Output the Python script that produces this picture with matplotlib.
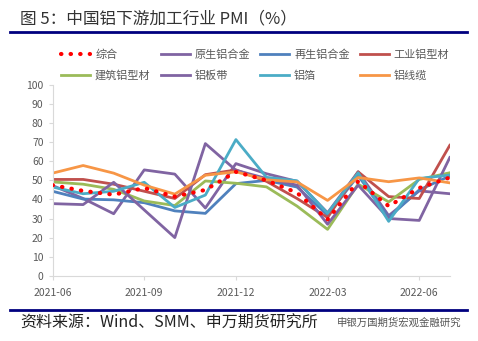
import matplotlib
matplotlib.use("Agg")
import matplotlib.pyplot as plt
from matplotlib.lines import Line2D

plt.rcParams['font.family'] = ['Noto Sans CJK SC', 'DejaVu Sans']

months = ["2021-06", "2021-07", "2021-08", "2021-09", "2021-10", "2021-11", "2021-12",
          "2022-01", "2022-02", "2022-03", "2022-04", "2022-05", "2022-06", "2022-07"]
tick_labels = ["2021-06", "2021-09", "2021-12", "2022-03", "2022-06"]

composite = [47.5, 44.5, 42.5, 46, 41.5, 45, 54.5, 50, 43.5, 29.5, 49.5, 36.5, 46, 51.5]
primary_alloy = [47.3, 40.5, 32.5, 55.5, 53.3, 35.5, 58.8, 53.5, 49.5, 33, 54.5, 31.5, 44.5, 43]
recycled_alloy = [44.3, 40.2, 39.8, 38.3, 34, 32.7, 48.3, 50, 46.5, 31.8, 52.5, 30.5, 45, 52.3]
industrial_profile = [50.5, 50.5, 48, 44.3, 40.5, 53, 55.5, 49.5, 40.5, 30.5, 54.5, 41.5, 40.5, 68.4]
building_profile = [49.2, 48, 45.3, 39.2, 36.8, 49.7, 48.5, 46.6, 36.5, 24.3, 48, 38.7, 50.5, 54]
sheet_strip = [37.8, 37.3, 49, 34.5, 20, 69.3, 55.3, 51, 47.5, 27, 47.5, 30, 29, 62]
foil = [46.5, 43, 44.3, 49, 35.8, 42.3, 71.4, 51.6, 49.8, 32.7, 54, 28.5, 51, 52.8]
cable = [53.8, 57.8, 53.8, 47.5, 42.8, 52.7, 54.5, 50.3, 49.2, 39.5, 51.5, 49.3, 51.3, 48.7]

x = list(range(len(months)))
tick_pos = [months.index(m) for m in tick_labels]

fig = plt.figure(figsize=(4.78, 3.41), dpi=100)
ax = fig.add_axes([0.110, 0.1915, 0.831, 0.559])

solid = [
    ("原生铝合金", primary_alloy, "#8064A2"),
    ("再生铝合金", recycled_alloy, "#4F81BD"),
    ("工业铝型材", industrial_profile, "#C0504D"),
    ("建筑铝型材", building_profile, "#9BBB59"),
    ("铝板带", sheet_strip, "#8064A2"),
    ("铝箔", foil, "#4BACC6"),
    ("铝线缆", cable, "#F79646"),
]
for name, vals, col in solid:
    ax.plot(x, vals, color=col, lw=2, label=name)

ax.plot(x, composite, color="#FF0000", lw=3, linestyle=(0, (0.1, 2.2)),
        dash_capstyle="round", label="综合", zorder=5)

ax.set_xlim(0, 13)
ax.set_ylim(0, 100)
ax.set_yticks(range(0, 101, 10))
ax.set_xticks(tick_pos)
ax.set_xticklabels(tick_labels)
ax.tick_params(colors="#D9D9D9", labelcolor="#595959", labelsize=7.5, length=3, width=0.8)
ax.tick_params(axis="x", pad=6)
for s in ["top", "right"]:
    ax.spines[s].set_visible(False)
for s in ["left", "bottom"]:
    ax.spines[s].set_color("#D9D9D9")

# legend: 2 rows x 4 columns, filled column by column so it reads row-wise
rows = [["综合", "原生铝合金", "再生铝合金", "工业铝型材"],
        ["建筑铝型材", "铝板带", "铝箔", "铝线缆"]]
order = [rows[r][c] for c in range(4) for r in range(2)]
handles, labels = ax.get_legend_handles_labels()
hmap = dict(zip(labels, handles))
leg = fig.legend([hmap[o] for o in order], order, ncol=4, loc="upper left",
                 bbox_to_anchor=(0.128, 0.856), frameon=False, fontsize=8,
                 handlelength=2.6, columnspacing=0.9, handletextpad=0.45,
                 labelspacing=0.95, labelcolor="#595959",
                 borderpad=0, borderaxespad=0)

fig.text(0.042, 0.945, "图 5：中国铝下游加工行业 PMI（%）", fontsize=12,
         color="#333333", va="center", ha="left")
fig.add_artist(Line2D([0.021, 0.977], [0.905, 0.905], color="#00007F", lw=2))
fig.add_artist(Line2D([0.021, 0.977], [0.09, 0.09], color="#00007F", lw=2))
fig.text(0.042, 0.052, "资料来源：Wind、SMM、申万期货研究所", fontsize=11.5,
         color="#222222", va="center", ha="left")
fig.text(0.965, 0.055, "申银万国期货宏观金融研究", fontsize=7.5,
         color="#555555", va="center", ha="right")

fig.savefig("out.png", dpi=100)
